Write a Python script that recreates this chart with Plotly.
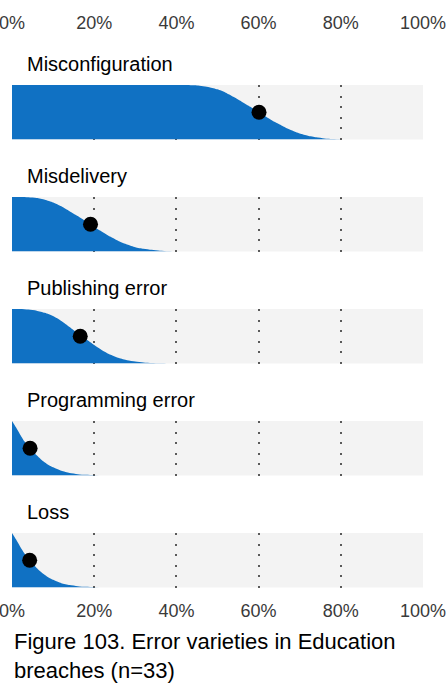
import plotly.graph_objects as go
from plotly.subplots import make_subplots

# ---- data ----
categories = ["Misconfiguration", "Misdelivery", "Publishing error", "Programming error", "Loss"]
medians = [60.1, 19.1, 16.6, 4.4, 4.3]          # % (dot position)

# complementary-CDF slab: x in %, height as fraction of band
misconfig_x = [0, 10, 20, 30, 40, 42, 45, 48, 50, 52, 54, 56, 58, 60, 62, 64, 66, 68, 70, 72, 74, 76, 78, 80, 82]
misconfig_y = [1, 1, 1, 1, 1, 0.998, 0.99, 0.96, 0.92, 0.86, 0.78, 0.69, 0.60, 0.50, 0.41, 0.32, 0.24, 0.17, 0.11, 0.07, 0.04, 0.02, 0.008, 0.002, 0]

misdeliv_x = [0, 2, 4, 6, 8, 10, 12, 14, 16, 18, 19, 20, 22, 24, 26, 28, 30, 32, 34, 36, 38, 40, 42]
misdeliv_y = [1, 1, 0.995, 0.98, 0.95, 0.90, 0.83, 0.74, 0.65, 0.55, 0.50, 0.45, 0.36, 0.27, 0.19, 0.13, 0.08, 0.05, 0.03, 0.015, 0.006, 0.002, 0]

publish_x = [0, 2, 4, 6, 8, 10, 12, 14, 16, 17, 18, 20, 22, 24, 26, 28, 30, 32, 34, 36, 38, 40]
publish_y = [1, 1, 0.99, 0.97, 0.93, 0.87, 0.78, 0.67, 0.55, 0.50, 0.45, 0.34, 0.24, 0.16, 0.10, 0.06, 0.035, 0.02, 0.01, 0.004, 0.001, 0]

program_x = [0, 1, 2, 3, 4, 5, 6, 7, 8, 9, 10, 12, 14, 16, 18, 20, 22]
program_y = [1, 0.88, 0.75, 0.63, 0.54, 0.45, 0.37, 0.30, 0.24, 0.19, 0.15, 0.085, 0.045, 0.025, 0.012, 0.005, 0]

loss_x = [0, 1, 2, 3, 4, 5, 6, 7, 8, 9, 10, 12, 14, 16, 18, 20, 22]
loss_y = [1, 0.88, 0.75, 0.63, 0.53, 0.44, 0.36, 0.29, 0.23, 0.18, 0.14, 0.08, 0.045, 0.025, 0.012, 0.005, 0]

tick_vals = [0, 20, 40, 60, 80, 100]
tick_text = ["0%", "20%", "40%", "60%", "80%", "100%"]

title_text = "Figure 103. Error varieties in Education<br>breaches (n=33)"

slab_x = [misconfig_x, misdeliv_x, publish_x, program_x, loss_x]
slab_y = [misconfig_y, misdeliv_y, publish_y, program_y, loss_y]

# ---- layout geometry (pixels) ----
W, H = 447, 693
L, R = 12, 24
TOP, BOT = 85, 588
band_h = 54.5
step = 112
plot_h = BOT - TOP

def py(px):
    return (BOT - px) / plot_h

n = len(categories)
fig = make_subplots(rows=n, cols=1, shared_xaxes=False)

BLUE = "#1071C3"
FONT = "Liberation Sans, Arial, sans-serif"

for i in range(n):
    r = i + 1
    fig.add_trace(go.Scatter(x=slab_x[i], y=slab_y[i], mode="lines",
                             line=dict(width=0, shape="spline", smoothing=0.6, color=BLUE),
                             fill="tozeroy", fillcolor=BLUE, hoverinfo="skip",
                             showlegend=False), row=r, col=1)
    fig.add_trace(go.Scatter(x=[medians[i]], y=[0.5], mode="markers",
                             marker=dict(size=15, color="black"),
                             showlegend=False), row=r, col=1)

for i in range(n):
    top = TOP + step * i
    bot = top + band_h
    ax = "yaxis" if i == 0 else f"yaxis{i+1}"
    xa = "xaxis" if i == 0 else f"xaxis{i+1}"
    fig.layout[ax].update(domain=[py(bot), py(top)], range=[0, 1], visible=False, fixedrange=True)
    show_top = (i == 0)
    show_bot = (i == n - 1)
    fig.layout[xa].update(domain=[0, 1], range=[0, 100], tickvals=tick_vals, ticktext=tick_text,
                          showgrid=True, gridcolor="#5a5a5a", griddash="2px,8.5px", gridwidth=1.5,
                          zeroline=False, showline=False, ticks="",
                          showticklabels=show_top or show_bot,
                          side="top" if show_top else "bottom",
                          tickfont=dict(family=FONT, size=18, color="#3a3a3a"),
                          ticklabelstandoff=51 if show_top else 10,
                          ticklabeloverflow="allow", automargin=False,
                          fixedrange=True)
    fig.add_annotation(text=categories[i], xref="paper", yref="paper",
                       x=(25 - L) / (W - L - R), y=py(top - 21), xanchor="left", yanchor="middle",
                       showarrow=False, font=dict(family=FONT, size=20, color="black"))

fig.add_annotation(text=title_text, xref="paper", yref="paper",
                   x=(12 - L) / (W - L - R), y=py(627), xanchor="left", yanchor="top",
                   align="left", showarrow=False,
                   font=dict(family=FONT, size=22, color="black"))

fig.update_layout(width=W, height=H, margin=dict(l=L, r=R, t=TOP, b=H - BOT, autoexpand=False),
                  plot_bgcolor="#F3F3F3", paper_bgcolor="white", showlegend=False)

fig.write_html("out.html")
